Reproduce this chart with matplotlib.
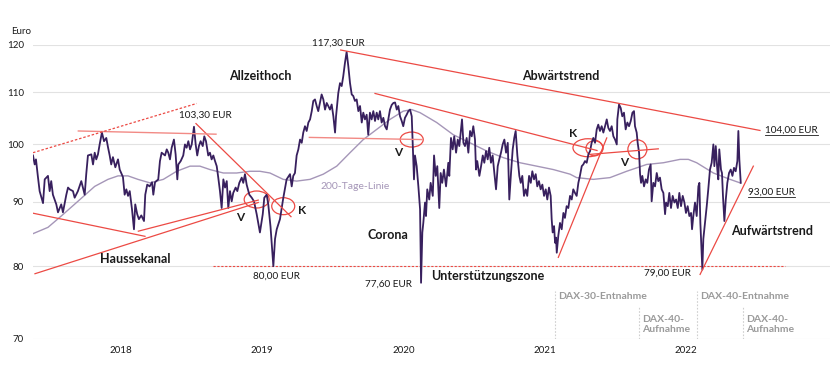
import matplotlib

matplotlib.use("Agg")

import matplotlib.pyplot as plt
from matplotlib.lines import Line2D
from matplotlib.patches import Ellipse
from matplotlib.ticker import FixedLocator, NullLocator
from matplotlib.transforms import ScaledTranslation

plt.rcParams["font.family"] = ["Lato", "DejaVu Sans"]

PRICE_COLOR = "#38205e"
MA_COLOR = "#a596b8"
RED = "#ec4a44"
LIGHT_RED = "#f28a85"
GREY_TEXT = "#9a9a9a"
TEXT = "#1a1a1a"

price_years = [
    2017.377, 2017.389, 2017.398, 2017.412, 2017.424, 2017.448, 2017.460, 2017.483, 2017.495, 2017.506,
    2017.518, 2017.542, 2017.554, 2017.577, 2017.589, 2017.613, 2017.625, 2017.637, 2017.660, 2017.672,
    2017.695, 2017.719, 2017.743, 2017.754, 2017.766, 2017.790, 2017.802, 2017.814, 2017.825, 2017.837,
    2017.849, 2017.865, 2017.880, 2017.896, 2017.908, 2017.920, 2017.931, 2017.943, 2017.960, 2017.979,
    2017.991, 2018.014, 2018.026, 2018.038, 2018.050, 2018.062, 2018.078, 2018.092, 2018.101, 2018.115,
    2018.127, 2018.144, 2018.163, 2018.172, 2018.186, 2018.203, 2018.220, 2018.229, 2018.241, 2018.264,
    2018.276, 2018.288, 2018.312, 2018.324, 2018.335, 2018.347, 2018.359, 2018.375, 2018.387, 2018.399,
    2018.406, 2018.423, 2018.441, 2018.453, 2018.465, 2018.477, 2018.489, 2018.501, 2018.517, 2018.529,
    2018.540, 2018.552, 2018.564, 2018.579, 2018.590, 2018.602, 2018.618, 2018.630, 2018.642, 2018.654,
    2018.666, 2018.678, 2018.689, 2018.701, 2018.713, 2018.725, 2018.737, 2018.749, 2018.760, 2018.772,
    2018.784, 2018.795, 2018.812, 2018.824, 2018.838, 2018.855, 2018.866, 2018.878, 2018.890, 2018.909,
    2018.926, 2018.942, 2018.961, 2018.984, 2019.004, 2019.015, 2019.032, 2019.043, 2019.059, 2019.079,
    2019.091, 2019.103, 2019.126, 2019.149, 2019.173, 2019.197, 2019.209, 2019.220, 2019.232, 2019.244,
    2019.256, 2019.268, 2019.280, 2019.291, 2019.303, 2019.315, 2019.327, 2019.339, 2019.351, 2019.362,
    2019.374, 2019.386, 2019.397, 2019.409, 2019.421, 2019.433, 2019.445, 2019.457, 2019.468, 2019.480,
    2019.492, 2019.504, 2019.516, 2019.523, 2019.539, 2019.551, 2019.563, 2019.574, 2019.586, 2019.598,
    2019.610, 2019.622, 2019.634, 2019.645, 2019.657, 2019.669, 2019.681, 2019.693, 2019.705, 2019.716,
    2019.728, 2019.740, 2019.751, 2019.763, 2019.775, 2019.787, 2019.799, 2019.811, 2019.822, 2019.834,
    2019.846, 2019.858, 2019.870, 2019.882, 2019.893, 2019.905, 2019.917, 2019.929, 2019.941, 2019.953,
    2019.964, 2019.976, 2019.988, 2019.999, 2020.011, 2020.023, 2020.035, 2020.047, 2020.059, 2020.066,
    2020.075, 2020.082, 2020.094, 2020.106, 2020.118, 2020.125, 2020.134, 2020.141, 2020.153, 2020.160,
    2020.169, 2020.183, 2020.193, 2020.208, 2020.217, 2020.229, 2020.240, 2020.254, 2020.264, 2020.275,
    2020.287, 2020.302, 2020.318, 2020.325, 2020.337, 2020.349, 2020.360, 2020.373, 2020.385, 2020.396,
    2020.406, 2020.415, 2020.425, 2020.436, 2020.448, 2020.460, 2020.472, 2020.484, 2020.495, 2020.507,
    2020.514, 2020.523, 2020.538, 2020.550, 2020.562, 2020.573, 2020.585, 2020.597, 2020.608, 2020.620,
    2020.632, 2020.644, 2020.656, 2020.668, 2020.679, 2020.691, 2020.703, 2020.715, 2020.727, 2020.739,
    2020.750, 2020.762, 2020.774, 2020.785, 2020.795, 2020.807, 2020.821, 2020.831, 2020.842, 2020.854,
    2020.866, 2020.877, 2020.890, 2020.902, 2020.913, 2020.925, 2020.937, 2020.948, 2020.960, 2020.972,
    2020.984, 2020.996, 2021.008, 2021.019, 2021.031, 2021.043, 2021.050, 2021.057, 2021.067, 2021.074,
    2021.081, 2021.086, 2021.097, 2021.109, 2021.121, 2021.133, 2021.144, 2021.156, 2021.168, 2021.180,
    2021.192, 2021.203, 2021.215, 2021.227, 2021.239, 2021.250, 2021.263, 2021.274, 2021.286, 2021.298,
    2021.310, 2021.322, 2021.333, 2021.345, 2021.357, 2021.369, 2021.380, 2021.392, 2021.404, 2021.416,
    2021.428, 2021.440, 2021.451, 2021.463, 2021.475, 2021.487, 2021.499, 2021.511, 2021.515, 2021.527,
    2021.539, 2021.550, 2021.562, 2021.574, 2021.586, 2021.598, 2021.610, 2021.622, 2021.633, 2021.640,
    2021.652, 2021.659, 2021.669, 2021.676, 2021.683, 2021.692, 2021.704, 2021.716, 2021.727, 2021.739,
    2021.751, 2021.758, 2021.770, 2021.782, 2021.794, 2021.805, 2021.817, 2021.829, 2021.841, 2021.853,
    2021.860, 2021.872, 2021.883, 2021.895, 2021.907, 2021.919, 2021.931, 2021.943, 2021.954, 2021.966,
    2021.978, 2021.990, 2022.001, 2022.013, 2022.025, 2022.037, 2022.044, 2022.053, 2022.065, 2022.077,
    2022.089, 2022.096, 2022.103, 2022.110, 2022.117, 2022.124, 2022.136, 2022.148, 2022.159, 2022.171,
    2022.183, 2022.195, 2022.202, 2022.212, 2022.223, 2022.230, 2022.237, 2022.249, 2022.256, 2022.263,
    2022.273, 2022.283, 2022.294, 2022.306, 2022.318, 2022.330, 2022.341, 2022.353, 2022.365, 2022.372,
    2022.379, 2022.389,
]
price_eur = [
    98.0, 96.4, 97.3, 94.2, 91.8, 89.8, 93.8, 94.4, 91.8, 93.5,
    91.2, 89.6, 88.3, 89.6, 88.3, 91.2, 92.4, 92.1, 91.8, 90.7,
    91.8, 93.5, 91.2, 94.7, 98.0, 98.2, 96.4, 98.5, 97.3, 98.2,
    100.0, 102.2, 100.6, 101.2, 99.5, 98.0, 96.4, 97.7, 95.9, 97.3,
    95.5, 94.2, 91.2, 92.1, 91.0, 91.8, 88.8, 85.6, 89.6, 88.0,
    87.2, 87.8, 86.9, 91.2, 92.9, 92.6, 93.3, 91.2, 93.3, 93.8,
    97.0, 98.5, 98.0, 99.1, 98.5, 97.3, 99.4, 100.9, 98.2, 93.8,
    96.4, 97.0, 98.0, 100.0, 99.4, 100.6, 99.1, 100.0, 103.3, 100.0,
    98.0, 99.7, 100.6, 99.7, 101.5, 100.6, 98.0, 98.5, 97.3, 98.0,
    97.0, 96.1, 94.1, 91.8, 89.0, 93.8, 92.4, 93.5, 89.0, 91.8,
    90.1, 91.5, 92.4, 91.8, 93.2, 94.1, 93.2, 94.7, 92.9, 91.2,
    90.7, 90.1, 88.0, 85.1, 88.0, 90.7, 91.2, 89.6, 86.0, 80.0,
    84.1, 85.6, 87.2, 90.6, 93.8, 94.7, 92.6, 94.4, 94.9, 98.0,
    99.1, 100.9, 100.3, 102.2, 103.4, 102.5, 104.1, 104.7, 106.3, 108.3,
    108.6, 107.3, 106.3, 107.9, 109.6, 108.6, 106.6, 107.9, 107.3, 106.6,
    107.6, 105.3, 102.2, 105.3, 109.9, 111.9, 111.3, 113.3, 116.1, 118.5,
    115.4, 111.9, 109.6, 109.3, 108.3, 108.6, 106.3, 107.3, 104.1, 106.0,
    104.7, 105.6, 101.8, 106.0, 104.7, 106.3, 104.4, 106.0, 104.7, 106.3,
    104.1, 105.0, 103.4, 102.8, 104.7, 106.6, 107.5, 107.9, 108.0, 106.6,
    107.3, 105.3, 104.4, 103.4, 105.0, 105.6, 106.3, 106.6, 105.3, 100.3,
    93.8, 98.0, 96.1, 92.6, 88.8, 77.6, 85.1, 86.6, 89.9, 87.7,
    92.1, 90.4, 93.2, 91.0, 98.0, 94.4, 96.1, 89.0, 94.9, 93.2,
    95.5, 92.6, 96.7, 94.4, 101.2, 99.1, 101.5, 98.5, 100.9, 99.7,
    102.2, 104.7, 100.3, 99.7, 101.2, 98.5, 102.5, 101.5, 103.4, 100.9,
    95.5, 97.0, 94.4, 96.1, 98.0, 96.7, 98.8, 97.3, 99.4, 96.7,
    98.0, 94.9, 92.1, 96.1, 97.3, 98.5, 100.0, 100.9, 98.5, 100.3,
    90.4, 94.9, 99.1, 101.2, 102.5, 98.0, 94.4, 93.2, 94.4, 91.0,
    92.1, 91.0, 94.4, 93.2, 95.2, 93.8, 94.7, 92.6, 93.5, 92.1,
    92.9, 91.0, 92.1, 90.4, 92.4, 91.0, 87.2, 85.1, 86.1, 83.5,
    84.3, 82.0, 84.6, 86.6, 85.6, 88.2, 87.4, 89.3, 89.0, 91.0,
    90.4, 92.1, 91.5, 91.0, 93.2, 94.4, 96.1, 96.4, 97.0, 96.7,
    98.2, 98.8, 100.3, 101.2, 100.3, 102.8, 103.7, 102.5, 103.4, 102.2,
    103.4, 104.7, 103.1, 102.5, 103.4, 101.5, 100.9, 100.0, 104.7, 107.6,
    106.9, 105.3, 106.0, 102.8, 104.1, 103.4, 104.4, 106.0, 106.3, 103.4,
    102.2, 100.3, 98.5, 94.7, 93.2, 94.4, 92.6, 93.8, 93.2, 95.5,
    96.4, 90.1, 93.2, 92.6, 94.9, 93.5, 94.1, 92.1, 91.5, 88.0,
    89.9, 89.3, 91.5, 89.0, 91.0, 89.9, 90.4, 89.0, 91.5, 89.3,
    91.0, 89.9, 88.2, 89.3, 87.7, 88.2, 85.6, 87.7, 89.9, 87.7,
    92.6, 93.2, 86.6, 83.0, 79.5, 84.1, 86.6, 89.3, 92.1, 95.5,
    96.7, 100.0, 96.1, 99.7, 95.5, 93.8, 99.1, 95.5, 94.9, 91.0,
    86.9, 90.4, 93.2, 94.9, 95.5, 94.4, 95.8, 95.2, 97.0, 102.5,
    97.3, 93.2,
]

# 200-Tage-Linie
ma_years = [
    2017.365, 2017.483, 2017.577, 2017.695, 2017.814, 2017.908, 2017.979, 2018.050, 2018.120, 2018.205,
    2018.300, 2018.394, 2018.489, 2018.559, 2018.630, 2018.725, 2018.819, 2018.914, 2018.984, 2019.055,
    2019.149, 2019.244, 2019.339, 2019.433, 2019.528, 2019.622, 2019.716, 2019.811, 2019.905, 2019.999,
    2020.059, 2020.118, 2020.236, 2020.353, 2020.472, 2020.590, 2020.708, 2020.826, 2020.944, 2021.062,
    2021.180, 2021.227, 2021.345, 2021.463, 2021.581, 2021.723, 2021.841, 2021.959, 2022.018, 2022.077,
    2022.195, 2022.313, 2022.384,
]
ma_eur = [
    84.8, 85.9, 87.7, 90.1, 92.6, 93.8, 94.4, 94.4, 93.8, 93.2,
    93.8, 95.2, 96.1, 96.1, 95.5, 94.9, 94.9, 95.2, 95.2, 94.9,
    93.8, 93.5, 93.8, 94.7, 96.1, 98.5, 100.9, 102.8, 104.7, 106.3,
    106.6, 106.0, 104.1, 101.8, 100.3, 98.8, 97.6, 96.7, 96.1, 95.5,
    94.7, 94.1, 93.8, 94.1, 95.2, 96.4, 96.7, 97.3, 97.3, 96.7,
    94.9, 93.8, 93.2,
]

# Trendlinien: (Jahr Start, Kurs Start, Jahr Ende, Kurs Ende)
trend_lines = [
    (2017.368, 88.2, 2018.170, 84.5),
    (2017.391, 78.9, 2018.972, 89.9),
    (2018.123, 85.3, 2018.972, 90.3),
    (2018.531, 103.9, 2019.204, 87.6),
    (2019.556, 118.9, 2022.525, 102.6),
    (2019.799, 109.8, 2021.371, 98.9),
    (2021.322, 98.2, 2021.805, 99.2),
    (2021.097, 81.3, 2021.440, 101.2),
    (2022.101, 78.8, 2022.478, 96.1),
]
resistance_lines = [
    (2017.698, 102.5, 2018.673, 101.9),
    (2019.334, 101.3, 2020.130, 100.9),
]
channel_dotted = (2017.377, 98.5, 2018.536, 107.8)
support_level = 80.0
support_from, support_to = 2018.654, 2022.703

# Kauf-/Verkaufssignale: (Jahr, Kurs, Breite px, Hoehe px)
signal_rings = [
    (2018.961, 90.4, 25, 17),
    (2019.149, 89.3, 23, 17),
    (2020.059, 100.9, 23, 15),
    (2021.307, 99.4, 30, 18),
    (2021.353, 99.3, 17, 15),
    (2021.657, 99.1, 19, 19),
]
signal_labels = [
    ("V", 2018.843, 87.5),
    ("K", 2019.282, 88.6),
    ("V", 2019.962, 98.6),
    ("K", 2021.201, 102.0),
    ("V", 2021.562, 96.8),
]

# Indexwechsel: (Jahr, Text, Oberkante Linie, Kurs Text)
index_events = [
    (2021.074, "DAX-30-Entnahme", 76.4, 75.7),
    (2021.669, "DAX-40-\nAufnahme", 74.2, 71.9),
    (2022.079, "DAX-40-Entnahme", 76.4, 75.7),
    (2022.405, "DAX-40-\nAufnahme", 74.2, 71.9),
]

y_ticks = [70, 80, 90, 100, 110, 120]
x_ticks = [2018, 2019, 2020, 2021, 2022]


def add_ring(ax, x, y, w_px, h_px):
    # ellipse with fixed pixel size centred on a data point
    trans = ax.figure.dpi_scale_trans + ScaledTranslation(x, y, ax.transData)
    ring = Ellipse((0, 0), w_px / 100, h_px / 100, transform=trans,
                   fill=False, edgecolor=RED, lw=0.9, clip_on=False)
    ax.add_patch(ring)


def underline(fig, text):
    fig.canvas.draw()
    bb = text.get_window_extent()
    inv = fig.transFigure.inverted()
    x0, y0 = inv.transform((bb.x0, bb.y0))
    x1, _ = inv.transform((bb.x1, bb.y0))
    fig.add_artist(Line2D([x0, x1], [y0, y0], transform=fig.transFigure,
                          color=TEXT, lw=0.6))


def main():
    fig = plt.figure(figsize=(8.4, 3.75), dpi=100)
    ax = fig.add_axes([33 / 840, 36 / 375, 797 / 840, 294 / 375])

    ax.set_yscale("log")
    ax.set_xlim(2017.377, 2023.021)
    ax.set_ylim(70, 120)

    ax.yaxis.set_major_locator(FixedLocator(y_ticks))
    ax.yaxis.set_minor_locator(NullLocator())
    ax.set_yticklabels([str(t) for t in y_ticks])
    ax.set_xticks(x_ticks)
    ax.set_xticklabels([str(t) for t in x_ticks])
    ax.tick_params(axis="y", length=0, pad=6.5, labelsize=7, labelcolor=TEXT)
    ax.tick_params(axis="x", length=0, pad=5, labelsize=7, labelcolor=TEXT)
    ax.yaxis.grid(True, color="#e2e2e2", lw=0.8)
    ax.set_axisbelow(True)
    for spine in ax.spines.values():
        spine.set_visible(False)

    fig.text(11 / 840, 1 - 31 / 375, "Euro", fontsize=7, color=TEXT, va="center")

    # Unterstuetzung
    ax.plot([support_from, support_to], [support_level, support_level],
            color=RED, lw=0.8, ls=(0, (2, 1.5)))

    ax.plot(ma_years, ma_eur, color=MA_COLOR, lw=1.0)
    ax.plot(price_years, price_eur, color=PRICE_COLOR, lw=1.3)

    for x0, y0, x1, y1 in trend_lines:
        ax.plot([x0, x1], [y0, y1], color=RED, lw=0.9)
    for x0, y0, x1, y1 in resistance_lines:
        ax.plot([x0, x1], [y0, y1], color=LIGHT_RED, lw=1.0)
    x0, y0, x1, y1 = channel_dotted
    ax.plot([x0, x1], [y0, y1], color=RED, lw=0.9, ls=(0, (2, 1.5)))

    for x, y, w, h in signal_rings:
        add_ring(ax, x, y, w, h)
    for label, x, y in signal_labels:
        ax.text(x, y, label, fontsize=8.5, fontweight="bold", color=TEXT,
                ha="center", va="center")

    for x, label, top, ty in index_events:
        ax.plot([x, x], [70, top], color="#cfcfcf", lw=0.8, ls=(0, (1.5, 1.5)))
        ax.text(x + 0.02, ty, label, fontsize=7.5, fontweight="bold", color=GREY_TEXT,
                ha="left", va="center", linespacing=1.05)

    bold = dict(fontsize=9, fontweight="bold", color=TEXT, ha="center", va="center")
    ax.text(2018.984, 113.3, "Allzeithoch", **bold)
    ax.text(2021.116, 113.3, "Abwärtstrend", **bold)
    ax.text(2018.099, 81.0, "Haussekanal", **bold)
    ax.text(2019.891, 84.7, "Corona", **bold)
    ax.text(2020.599, 78.5, "Unterstützungszone", **bold)
    ax.text(2022.611, 85.3, "Aufwärtstrend", **bold)

    note = dict(fontsize=7.2, color=TEXT, ha="center", va="center")
    ax.text(2019.537, 120.5, "117,30 EUR", **note)
    ax.text(2018.595, 105.5, "103,30 EUR", **note)
    ax.text(2019.098, 78.5, "80,00 EUR", **note)
    ax.text(2019.891, 77.4, "77,60 EUR", **note)
    ax.text(2021.867, 79.0, "79,00 EUR", **note)
    ax.text(2019.657, 92.6, "200-Tage-Linie", fontsize=7.5, color=MA_COLOR,
            ha="center", va="center")

    t1 = ax.text(2022.561, 102.6, "104,00 EUR", fontsize=7.2, color=TEXT, ha="left", va="center")
    t2 = ax.text(2022.441, 91.6, "93,00 EUR", fontsize=7.2, color=TEXT, ha="left", va="center")
    underline(fig, t1)
    underline(fig, t2)

    fig.savefig("out.png", dpi=100)
    plt.close(fig)


if __name__ == "__main__":
    main()
